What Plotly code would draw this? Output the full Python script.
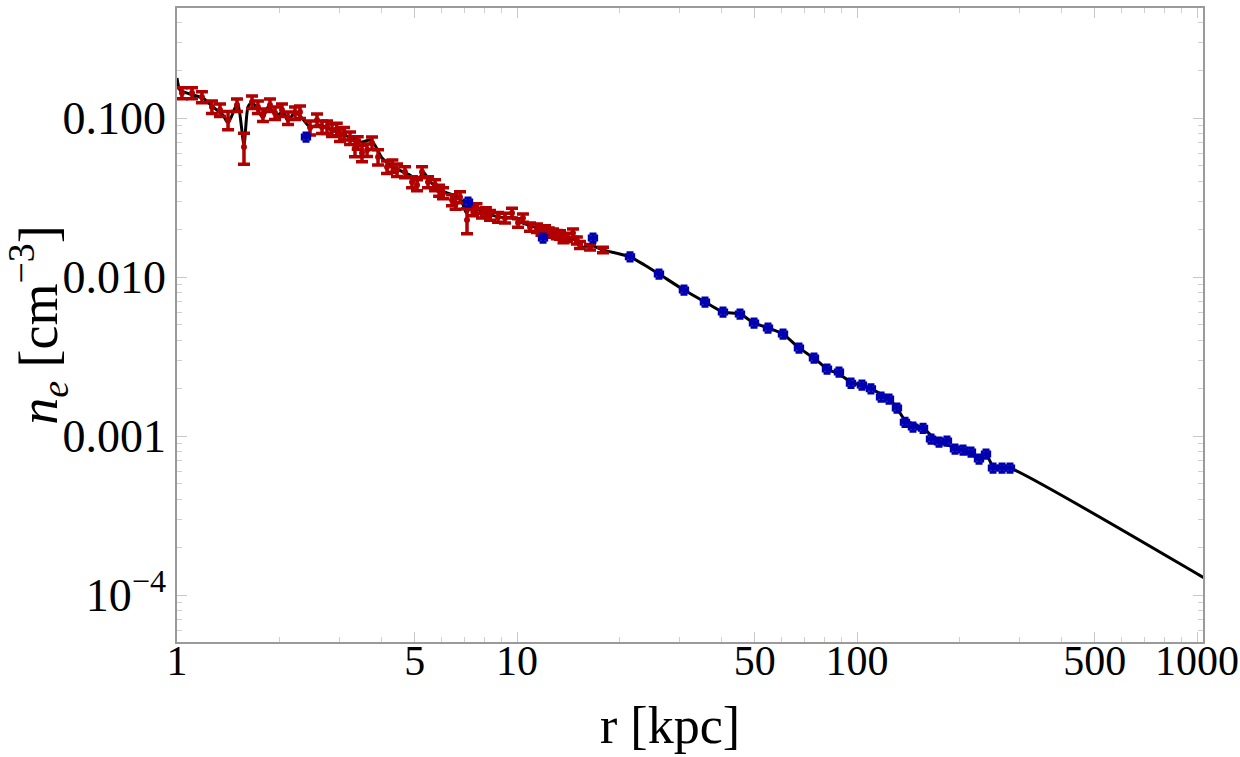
import plotly.graph_objects as go

# ---- data ----
red_r = [1.034,1.107,1.184,1.267,1.338,1.413,1.501,1.574,1.662,1.730,
         1.790,1.877,1.942,2.036,2.121,2.224,2.300,2.462,2.581,2.670,
         2.762,2.857,2.95,3.016,3.10,3.228,3.338,3.40,3.500,3.622,
         3.746,3.902,4.147,4.30,4.437,4.684,4.912,5.081,5.256,5.474,
         5.741,5.90,6.058,6.439,6.60,6.798,7.128,7.424,7.60,7.889,
         8.10,8.329,8.794,9.220,9.667,10.07,10.41,10.92,11.45,11.80,
         12.09,12.40,12.76,13.10,13.38,13.70,14.03,14.61,15.00,15.32,
         16.40,17.90]
red_n = [0.1436,0.1436,0.1355,0.1173,0.1123,0.0971,0.1207,0.0657,0.1261,0.1173,
         0.1044,0.1207,0.1075,0.1123,0.1000,0.1075,0.1091,0.087,0.0971,0.0878,
         0.0878,0.0840,0.085,0.0782,0.080,0.0748,0.0648,0.070,0.0602,0.0629,
         0.0696,0.0568,0.0492,0.050,0.0471,0.0457,0.0396,0.0379,0.0457,0.0396,
         0.0379,0.035,0.0337,0.0305,0.029,0.0318,0.0228,0.0264,0.027,0.0253,
         0.0255,0.0245,0.0238,0.0235,0.0253,0.0219,0.0235,0.0206,0.0203,0.0195,
         0.0198,0.0192,0.0189,0.0185,0.0184,0.0175,0.0178,0.0189,0.017,0.0159,
         0.0154,0.0148]
red_rel_err = [0.08,0.08,0.08,0.09,0.09,0.13,0.09,0.22,0.09,0.09,
               0.09,0.09,0.09,0.09,0.09,0.09,0.09,0.10,0.09,0.09,
               0.09,0.09,0.09,0.09,0.09,0.09,0.12,0.09,0.12,0.09,
               0.09,0.11,0.09,0.09,0.09,0.08,0.08,0.08,0.08,0.08,
               0.08,0.08,0.08,0.08,0.08,0.08,0.18,0.08,0.07,0.07,
               0.07,0.07,0.07,0.07,0.07,0.06,0.06,0.06,0.06,0.06,
               0.06,0.06,0.06,0.06,0.06,0.06,0.06,0.06,0.05,0.05,
               0.04,0.04]

blue_r = [2.396,7.177,11.93,16.73,21.50,26.16,30.98,35.72,40.35,45.28,
          49.79,54.73,60.59,67.51,74.73,81.63,88.52,96.03,103.4,109.9,
          117.7,124.2,131.1,138.4,146.1,156.4,165.1,174.3,183.9,194.2,
          205.0,216.4,228.5,239.6,251.2,267.0,281.8]
blue_n = [0.0760,0.0296,0.0176,0.0176,0.0134,0.01044,0.00828,0.00696,0.00602,0.00585,
          0.00514,0.00478,0.00438,0.00358,0.00309,0.00264,0.00253,0.00215,0.00209,0.00198,
          0.00176,0.00171,0.00150,0.00122,0.00114,0.00112,0.000957,0.000917,0.000930,0.000828,
          0.000816,0.000793,0.000717,0.000770,0.000629,0.000629,0.000629]
blue_rel_err_r = 0.025
blue_rel_err_n = 0.06

model_r = [1.0,1.02,1.092,1.192,1.276,1.365,1.413,1.481,1.511,1.574,
           1.617,1.662,1.730,1.790,1.852,1.968,2.049,2.121,2.224,2.331,
           2.462,2.632,2.857,3.06,3.27,3.50,3.69,3.82,4.01,4.38,
           4.84,5.12,5.30,5.56,6.13,6.80,7.10,7.37,7.89,8.90,
           9.88,10.19,10.77,12.09,13.38,14.79,15.6,16.4,17.9,21.5,
           23.7,26.16,30.98,35.72,40.35,45.28,49.79,54.73,60.59,67.51,
           74.73,81.63,88.5,96.0,109.9,124.2,131.1,138.4,156.4,174.3,
           205.0,228.5,239.6,251.2,281.8,1000,1050]
model_n = [0.1785,0.150,0.1416,0.1336,0.1173,0.1044,0.093,0.1156,0.1243,0.0676,
           0.1173,0.1261,0.1123,0.100,0.1173,0.1044,0.1091,0.0957,0.1091,0.100,
           0.0878,0.0904,0.0840,0.0793,0.0748,0.0706,0.0727,0.0676,0.0560,0.0485,
           0.0438,0.0407,0.0457,0.0396,0.0342,0.0314,0.0253,0.0284,0.0256,0.0238,
           0.0235,0.0222,0.0213,0.0195,0.0181,0.0171,0.0154,0.0159,0.0148,0.0134,
           0.0119,0.01044,0.00828,0.00696,0.00602,0.00585,0.00514,0.00478,0.00438,0.00358,
           0.00309,0.00264,0.00245,0.00219,0.00198,0.00171,0.00150,0.00126,0.00112,0.000917,
           0.000816,0.000728,0.000770,0.000647,0.000629,0.000136,0.000128]

x_tickvals = [1, 5, 10, 50, 100, 500, 1000]
x_ticktext = ["1", "5", "10", "50", "100", "500", "1000"]
y_tickvals = [1e-4, 1e-3, 1e-2, 1e-1]
y_ticktext = ["10<sup>\u22124</sup>", "0.001", "0.010", "0.100"]
x_title = "r [kpc]"
y_title = "<i>n</i><sub><i>e</i></sub> [cm<sup>\u22123</sup>]"

x_minor = [m * d for d in (1, 10, 100) for m in (2, 3, 4, 6, 7, 8, 9)]
y_minor = [m * d for d in (1e-5, 1e-4, 1e-3, 1e-2, 1e-1) for m in range(2, 10)]

RED = "#B00000"
BLUE = "#0000B0"
FONT = "Liberation Serif, Times New Roman, Times, serif"

fig = go.Figure()

fig.add_trace(go.Scatter(
    x=model_r, y=model_n, mode="lines",
    line=dict(color="black", width=3, shape="spline", smoothing=0.6),
    hoverinfo="skip", showlegend=False))

fig.add_trace(go.Scatter(
    x=red_r, y=red_n, mode="markers",
    marker=dict(color=RED, size=6),
    error_y=dict(type="data", array=[n * e for n, e in zip(red_n, red_rel_err)],
                 color=RED, thickness=3.5, width=6),
    showlegend=False))

fig.add_trace(go.Scatter(
    x=blue_r, y=blue_n, mode="markers",
    marker=dict(color=BLUE, size=6),
    error_y=dict(type="data", array=[n * blue_rel_err_n for n in blue_n],
                 color=BLUE, thickness=3, width=3.5),
    error_x=dict(type="data", array=[r * blue_rel_err_r for r in blue_r],
                 color=BLUE, thickness=3, width=3.5),
    showlegend=False))

axis_common = dict(
    showline=True, linecolor="#9a9a9a", linewidth=1.5, mirror="ticks",
    ticks="inside", ticklen=10, tickcolor="#c8c8c8", tickwidth=1,
    showgrid=False, zeroline=False,
)

fig.update_xaxes(
    type="log", range=[0, 3.0176],
    tickmode="array", tickvals=x_tickvals, ticktext=x_ticktext,
    tickfont=dict(family=FONT, size=42, color="black"),
    ticklabelstandoff=-19, ticklabeloverflow="allow",
    minor=dict(tickmode="array", tickvals=x_minor, ticks="inside", ticklen=5,
               tickcolor="#d0d0d0", showgrid=False),
    **axis_common)

fig.update_yaxes(
    type="log", range=[-4.2956, -0.3082],
    tickmode="array", tickvals=y_tickvals, ticktext=y_ticktext,
    tickfont=dict(family=FONT, size=46, color="black"),
    minor=dict(tickmode="array", tickvals=y_minor, ticks="inside", ticklen=5,
               tickcolor="#d0d0d0", showgrid=False),
    title=dict(text=y_title, font=dict(family=FONT, size=54, color="black"), standoff=8),
    **axis_common)

fig.add_annotation(
    text=x_title, xref="paper", yref="paper", x=0.4805, y=-0.131,
    xanchor="center", yanchor="middle", showarrow=False,
    font=dict(family=FONT, size=52, color="black"))

fig.update_layout(
    width=1240, height=757,
    margin=dict(l=177, r=37, t=8, b=115, autoexpand=False),
    plot_bgcolor="white", paper_bgcolor="white",
    showlegend=False,
)

fig.write_html("out.html")
